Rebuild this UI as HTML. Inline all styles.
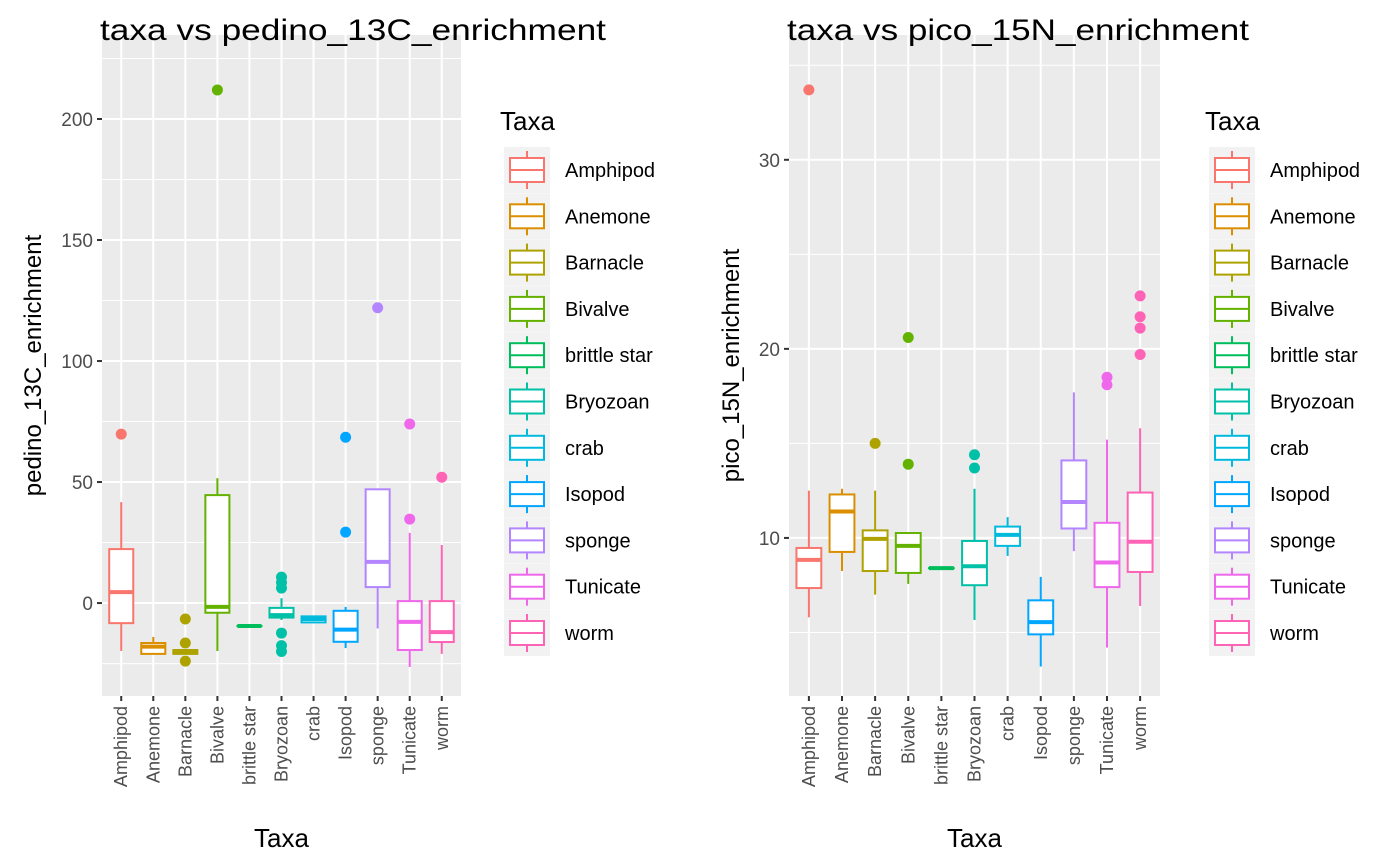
<!DOCTYPE html>
<html><head><meta charset="utf-8"><style>
body{margin:0;background:#fff;}
svg{display:block;font-family:"Liberation Sans",sans-serif;}
</style></head><body>
<svg id="chart" width="1400" height="865" viewBox="0 0 1400 865"></svg>
<script>
const categories = ["Amphipod","Anemone","Barnacle","Bivalve","brittle star","Bryozoan","crab","Isopod","sponge","Tunicate","worm"];
const colors = ["#F8766D","#DB8E00","#AEA200","#64B200","#00BD5C","#00C1A7","#00BADE","#00A6FF","#B385FF","#EF67EB","#FF63B6"];
// pedino_13C: [low, q1, median, q3, high]
const pedinoStats = [[-19.8,-8.3,4.5,22.3,41.7],[-21,-21,-18,-16.5,-14],[-21,-21,-20.2,-19.4,-19.4],[-19.8,-4,-1.6,44.6,51.6],[-9.5,-9.5,-9.5,-9.5,-9.5],[-7,-6,-5,-2,2],[-8,-8,-6.6,-5.5,-5.5],[-18.6,-16,-11,-3.2,-1.6],[-10.5,6.6,17,47,47],[-26.4,-19.4,-7.8,0.8,29],[-21,-16.1,-12,0.8,24]];
const pedinoOutliers = [[69.8],[],[-6.6,-16.5,-24],[212],[],[10.7,8.5,6.2,-12.4,-17.6,-20],[],[68.5,29.3],[122],[74,34.7],[52]];
const pedinoTicks = [0,50,100,150,200];
const pedinoMinor = [-25,25,75,125,175,225];
const picoStats = [[5.8,7.35,8.84,9.47,12.5],[8.25,9.26,11.4,12.3,12.6],[7.0,8.25,9.95,10.4,12.5],[7.57,8.15,9.58,10.26,10.26],[8.4,8.4,8.4,8.4,8.4],[5.66,7.5,8.5,9.84,12.6],[9.05,9.58,10.16,10.6,11.1],[3.2,4.9,5.55,6.7,7.94],[9.3,10.5,11.9,14.1,17.7],[4.2,7.4,8.7,10.8,15.2],[6.4,8.2,9.8,12.4,15.8]];
const picoOutliers = [[33.7],[],[15.0],[13.9,20.6],[],[14.4,13.7],[],[],[],[18.5,18.1],[22.8,21.7,21.1,19.7]];
const picoTicks = [10,20,30];
const picoMinor = [5,15,25,35];

const NS="http://www.w3.org/2000/svg";
const svg=document.getElementById('chart');
function mk(tag,attrs,parent,name,inter){const e=document.createElementNS(NS,tag);for(const k in attrs)e.setAttribute(k,attrs[k]);


(parent||svg).appendChild(e);return e;}

function panel(cfg){
  const g=mk('g',{},svg,cfg.name,false);
  const {x0,x1,y0,y1,vmin,vmax}=cfg;
  const ys=v=>y1-(v-vmin)/(vmax-vmin)*(y1-y0);
  const step=(x1-x0)/(categories.length+0.2);
  const xs=i=>x0+step*(0.6+i);
  mk('rect',{x:x0,y:y0,width:x1-x0,height:y1-y0,fill:'#EBEBEB'},g,'plot-background',false);
  cfg.minor.forEach(v=>{const y=ys(v);if(y>y0&&y<y1)mk('line',{x1:x0,x2:x1,y1:y,y2:y,stroke:'#fff','stroke-width':1},g,'minor-gridline',false);});
  cfg.ticks.forEach(v=>{const y=ys(v);
    mk('line',{x1:x0,x2:x1,y1:y,y2:y,stroke:'#fff','stroke-width':2},g,'major-gridline',false);
    mk('line',{x1:x0-5,x2:x0,y1:y,y2:y,stroke:'#333','stroke-width':2},g,'y-tick',false);
    const t=mk('text',{x:x0-9,y:y+7,'text-anchor':'end','font-size':19,fill:'#4D4D4D'},g,'y-tick-label',false);t.textContent=v;});
  categories.forEach((c,i)=>{const x=xs(i);
    mk('line',{x1:x,x2:x,y1:y0,y2:y1,stroke:'#fff','stroke-width':2},g,'x-gridline',false);
    mk('line',{x1:x,x2:x,y1:y1,y2:y1+5,stroke:'#333','stroke-width':2},g,'x-tick',false);
    const t=mk('text',{x:0,y:0,'text-anchor':'end','font-size':18,fill:'#4D4D4D',transform:`translate(${x+6},${y1+10}) rotate(-90)`},g,'x-tick-label',false);t.textContent=c;});
  const bw=step*0.75;
  categories.forEach((c,i)=>{const s=cfg.stats[i],x=xs(i),col=colors[i];
    const bg=mk('g',{},g,'box-'+c.replace(' ','-').toLowerCase(),true);
    mk('line',{x1:x,x2:x,y1:ys(s[4]),y2:ys(s[3]),stroke:col,'stroke-width':2},bg,'upper-whisker',false);
    mk('line',{x1:x,x2:x,y1:ys(s[1]),y2:ys(s[0]),stroke:col,'stroke-width':2},bg,'lower-whisker',false);
    mk('rect',{x:x-bw/2,y:ys(s[3]),width:bw,height:Math.max(ys(s[1])-ys(s[3]),0.01),fill:'#fff',stroke:col,'stroke-width':2},bg,'box',false);
    mk('line',{x1:x-bw/2,x2:x+bw/2,y1:ys(s[2]),y2:ys(s[2]),stroke:col,'stroke-width':4},bg,'median-line',false);
    cfg.out[i].forEach(v=>mk('circle',{cx:x,cy:ys(v),r:5.5,fill:col},bg,'outlier-point',true));
  });
  const tt=mk('text',{x:x0-2,y:40,'font-size':30,fill:'#000',textLength:cfg.tlen,lengthAdjust:'spacingAndGlyphs'},g,'chart-title',false);tt.textContent=cfg.title;
  const yt=mk('text',{x:0,y:0,'text-anchor':'middle','font-size':24,fill:'#000',transform:`translate(${cfg.ytx},${(y0+y1)/2}) rotate(-90)`},g,'y-axis-title',false);yt.textContent=cfg.ytitle;
  const xt=mk('text',{x:(x0+x1)/2,y:847,'text-anchor':'middle','font-size':26,fill:'#000'},g,'x-axis-title',false);xt.textContent='Taxa';
  const lg=mk('g',{},g,'legend',false);
  const lx=cfg.lx;
  const lt=mk('text',{x:lx-4,y:130,'font-size':26,fill:'#000'},lg,'legend-title',false);lt.textContent='Taxa';
  categories.forEach((c,i)=>{const y=147+i*46.3,col=colors[i];
    const e=mk('g',{},lg,'legend-entry',true);
    mk('rect',{x:lx,y:y,width:46,height:46,fill:'#F2F2F2'},e,'legend-key-bg',false);
    mk('line',{x1:lx+23,x2:lx+23,y1:y+4,y2:y+42,stroke:col,'stroke-width':2},e,'legend-whisker',false);
    mk('rect',{x:lx+6,y:y+11,width:34,height:24,fill:'#fff',stroke:col,'stroke-width':2},e,'legend-box',false);
    mk('line',{x1:lx+6,x2:lx+40,y1:y+23,y2:y+23,stroke:col,'stroke-width':2},e,'legend-median',false);
    const t=mk('text',{x:lx+61,y:y+30,'font-size':20,fill:'#000'},e,'legend-label',false);t.textContent=c;});
}
panel({name:'pedino-panel',x0:102,x1:461,y0:35,y1:696,vmin:-38.4,vmax:234.7,ticks:pedinoTicks,minor:pedinoMinor,stats:pedinoStats,out:pedinoOutliers,title:'taxa vs pedino_13C_enrichment',ytitle:'pedino_13C_enrichment',lx:504,ytx:41,tlen:506});
panel({name:'pico-panel',x0:789,x1:1160,y0:35,y1:696,vmin:1.64,vmax:36.6,ticks:picoTicks,minor:picoMinor,stats:picoStats,out:picoOutliers,title:'taxa vs pico_15N_enrichment',ytitle:'pico_15N_enrichment',lx:1209,ytx:739,tlen:462});
</script>
</body></html>
